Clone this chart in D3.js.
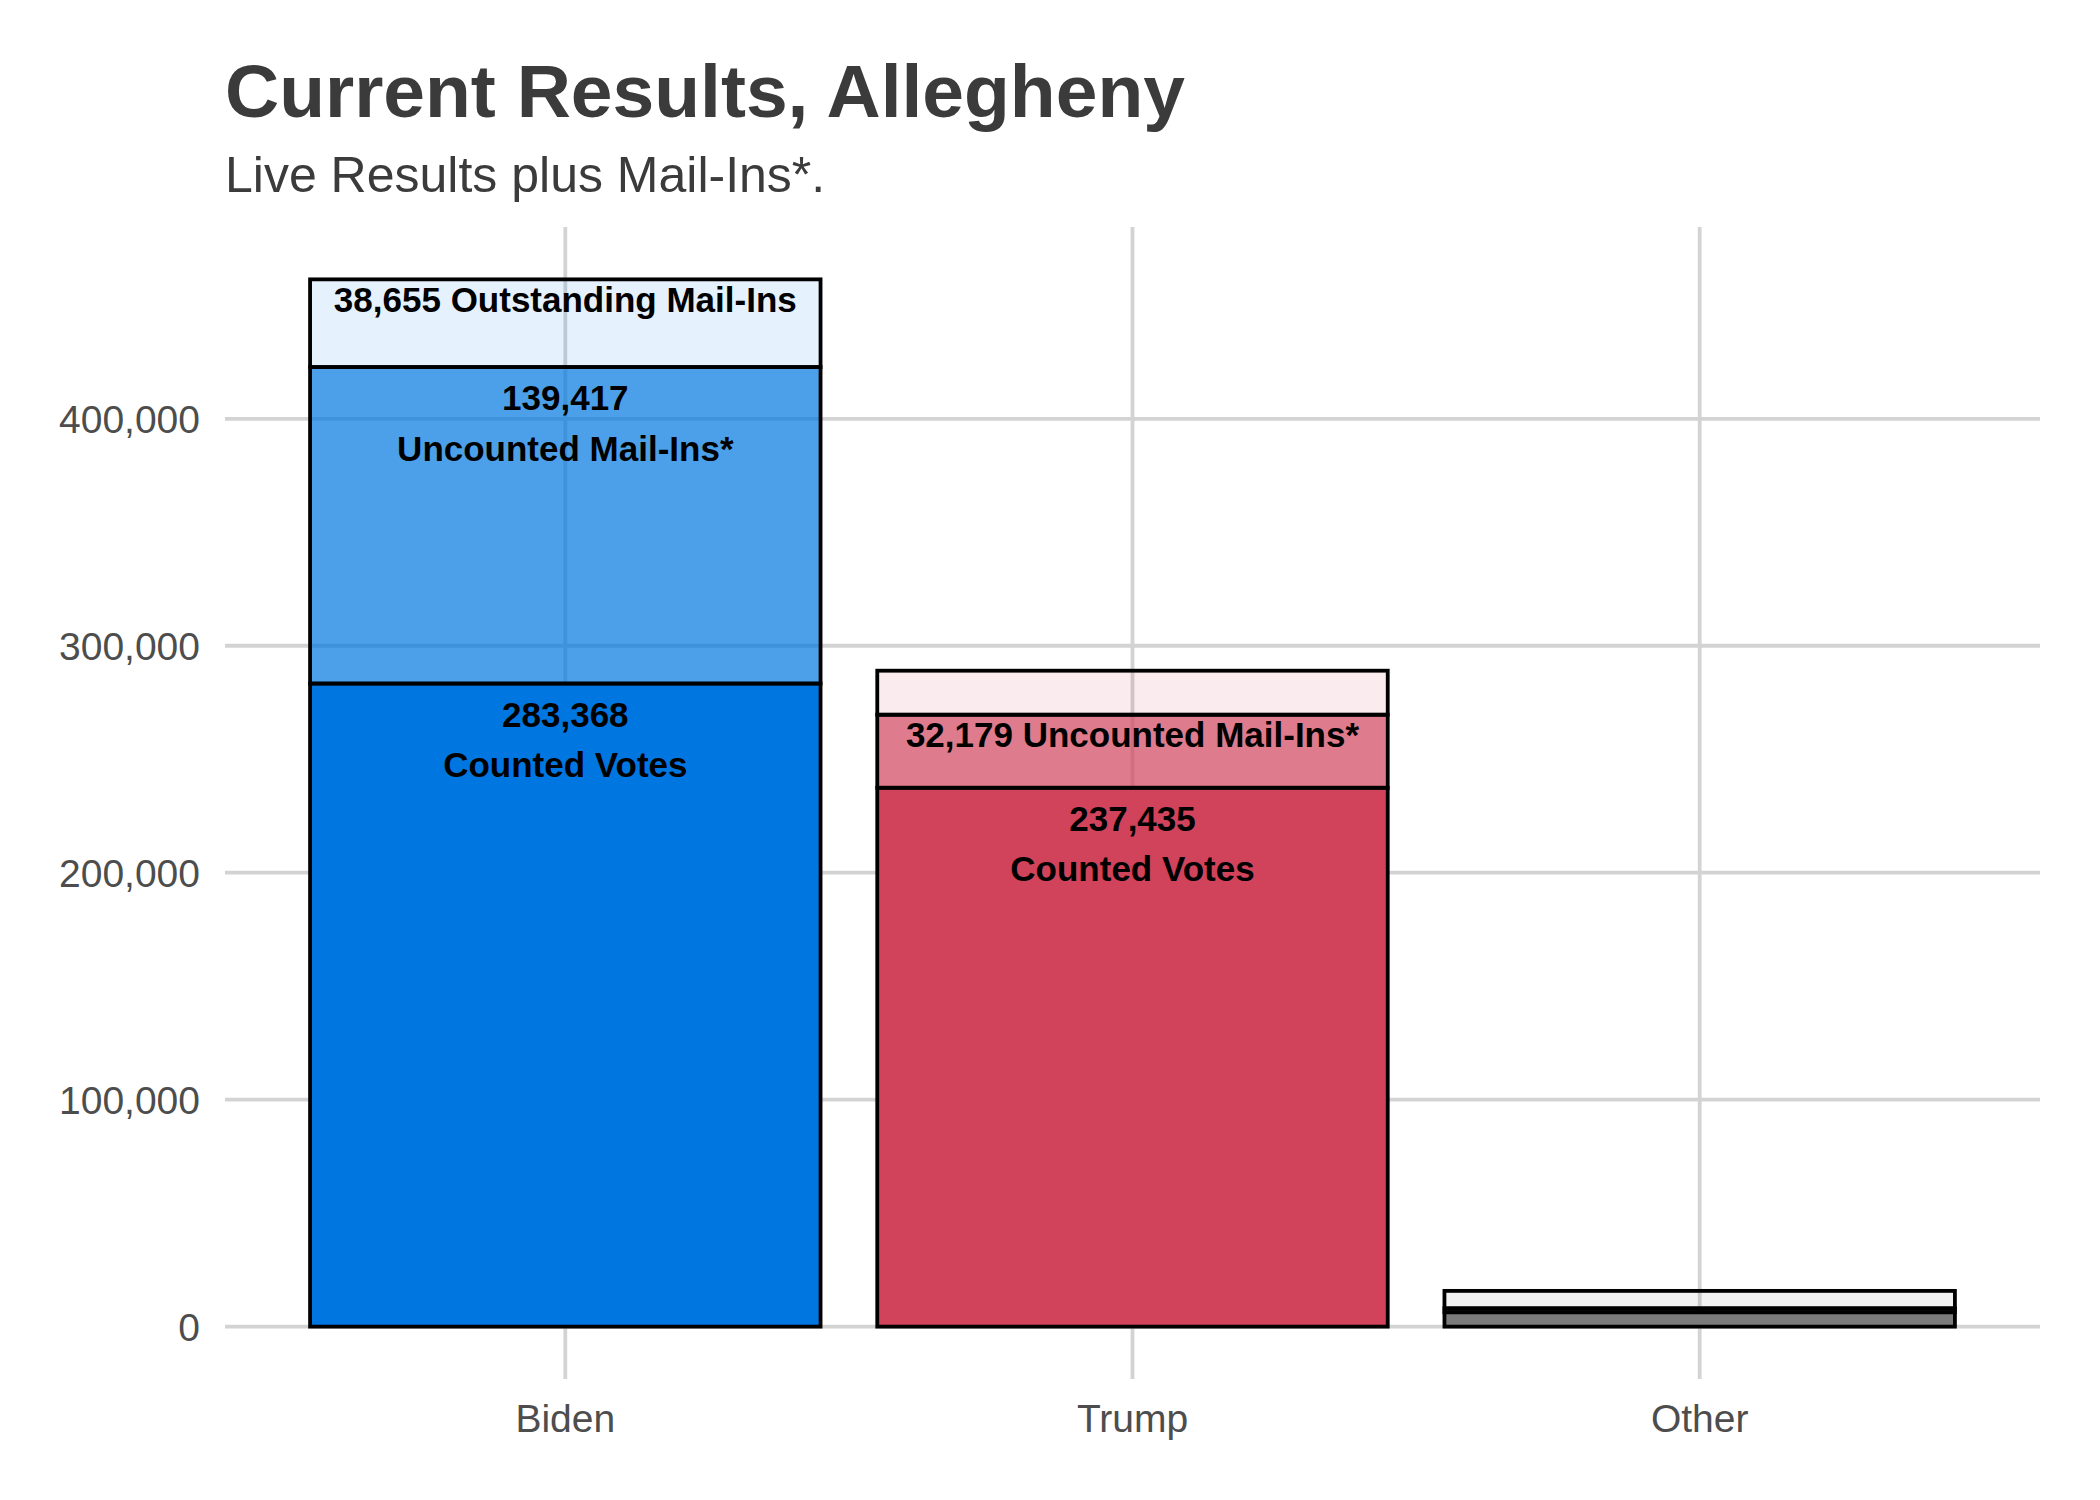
<!DOCTYPE html>
<html>
<head>
<meta charset="utf-8">
<script src="https://cdn.jsdelivr.net/npm/d3@7"></script>
<style>
  html, body { margin: 0; padding: 0; background: #ffffff; }
  svg { display: block; }
</style>
</head>
<body>
<svg id="chart" width="2100" height="1500"></svg>
<script>
// ---- Data ----
const categories = ["Biden", "Trump", "Other"];
const counted = [283368, 237435, 6350];
const uncounted = [139417, 32179, 1700];
const outstanding = [38655, 19400, 7700];
const baseColors = ["#0077E0", "#D0435B", "#7B7B7B"];
const segmentNames = ["counted", "uncounted", "outstanding"];
const segmentAlpha = [1, 0.7, 0.1];
const yTicks = [0, 100000, 200000, 300000, 400000];
// label lines per category per segment (empty = no label)
const countedLabels = [["283,368", "Counted Votes"], ["237,435", "Counted Votes"], []];
const uncountedLabels = [["139,417", "Uncounted Mail-Ins*"], ["32,179 Uncounted Mail-Ins*"], []];
const outstandingLabels = [["38,655 Outstanding Mail-Ins"], [], []];
const titleText = "Current Results, Allegheny";
const subtitleText = "Live Results plus Mail-Ins*.";

// ---- Layout ----
const svg = d3.select("#chart");
const panel = { left: 225, right: 2040, top: 227, bottom: 1379 };
const font = "'Liberation Sans', Arial, Helvetica, sans-serif";

const totals = categories.map((c, i) => counted[i] + uncounted[i] + outstanding[i]);
const maxTotal = d3.max(totals);

const x = d3.scaleBand()
  .domain(categories)
  .range([panel.left, panel.right])
  .paddingInner(0.1)
  .paddingOuter(0.15);

const y = d3.scaleLinear()
  .domain([-0.05 * maxTotal, 1.05 * maxTotal])
  .range([panel.bottom, panel.top]);

// ---- Gridlines ----
const grid = svg.append("g");
grid.selectAll("line.h").data(yTicks).enter().append("line")
  .attr("x1", panel.left).attr("x2", panel.right)
  .attr("y1", d => y(d)).attr("y2", d => y(d))
  .attr("stroke", "#D3D3D3").attr("stroke-width", 3.8);
grid.selectAll("line.v").data(categories).enter().append("line")
  .attr("x1", d => x(d) + x.bandwidth() / 2).attr("x2", d => x(d) + x.bandwidth() / 2)
  .attr("y1", panel.top).attr("y2", panel.bottom)
  .attr("stroke", "#D3D3D3").attr("stroke-width", 3.8);

// ---- Axes (text only, like theme_minimal) ----
const yAxis = d3.axisLeft(y).tickValues(yTicks).tickFormat(d3.format(",")).tickSize(0).tickPadding(0);
const yg = svg.append("g").attr("transform", `translate(200,0)`).call(yAxis);
yg.select(".domain").remove();
yg.selectAll("text")
  .attr("font-family", font).attr("font-size", 39).attr("fill", "#4D4D4D")
  .attr("dy", "0.36em").attr("x", 0);

const xAxis = d3.axisBottom(x).tickSize(0).tickPadding(0);
const xg = svg.append("g").attr("transform", `translate(0,1432)`).call(xAxis);
xg.select(".domain").remove();
xg.selectAll("text")
  .attr("font-family", font).attr("font-size", 39).attr("fill", "#4D4D4D")
  .attr("dy", 0).attr("y", 0);

// ---- Stacked bars ----
const stackData = categories.map((c, i) => ({
  category: c, counted: counted[i], uncounted: uncounted[i], outstanding: outstanding[i], idx: i
}));
const series = d3.stack().keys(segmentNames)(stackData);

const bars = svg.append("g");
series.forEach((s, si) => {
  bars.selectAll(null).data(s).enter().append("rect")
    .attr("x", d => x(d.data.category))
    .attr("width", x.bandwidth())
    .attr("y", d => y(d[1]))
    .attr("height", d => y(d[0]) - y(d[1]))
    .attr("fill", d => baseColors[d.data.idx])
    .attr("fill-opacity", segmentAlpha[si])
    .attr("stroke", "#000000")
    .attr("stroke-width", 3.8);
});

// ---- Labels ----
const labelSets = [countedLabels, uncountedLabels, outstandingLabels];
const labels = svg.append("g");
series.forEach((s, si) => {
  s.forEach(d => {
    const lines = labelSets[si][d.data.idx];
    if (!lines || lines.length === 0) return;
    const top = y(d[1]);
    const cx = x(d.data.category) + x.bandwidth() / 2;
    const firstBaseline = lines.length === 1 ? top + 32.5 : top + 43;
    const t = labels.append("text")
      .attr("font-family", font).attr("font-size", 35).attr("font-weight", "bold")
      .attr("fill", "#000000").attr("text-anchor", "middle");
    lines.forEach((ln, li) => {
      t.append("tspan").attr("x", cx).attr("y", firstBaseline + li * 50.5).text(ln);
    });
  });
});

// ---- Title ----
svg.append("text").attr("x", 225).attr("y", 117)
  .attr("font-family", font).attr("font-size", 75).attr("font-weight", "bold")
  .attr("fill", "#3B3B3B").text(titleText);
svg.append("text").attr("x", 225).attr("y", 192)
  .attr("font-family", font).attr("font-size", 50)
  .attr("fill", "#3B3B3B").text(subtitleText);
</script>
</body>
</html>
